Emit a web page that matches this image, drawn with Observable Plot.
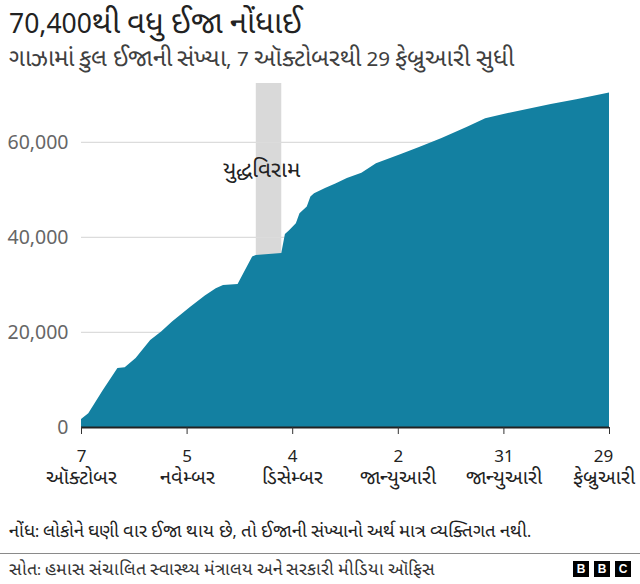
<!DOCTYPE html>
<html><head><meta charset="utf-8">
<script src="https://cdn.jsdelivr.net/npm/d3@7"></script>
<script src="https://cdn.jsdelivr.net/npm/@observablehq/plot@0.6"></script>
<style>
@font-face{font-family:"GujBig";src:local("Noto Sans Gujarati"),local("Noto Sans Gujarati Regular"),local("NotoSansGujarati-Regular"),local("Noto Sans Gujarati UI"),local("Lohit Gujarati"),local("Lohit-Gujarati"),local("FreeSans"),local("Shruti");size-adjust:118%;unicode-range:U+0A80-0AFF,U+200C-200D,U+25CC;}
body{margin:0;width:640px;height:584px;background:#fff;font-family:"GujBig","Noto Sans",sans-serif;position:relative;overflow:hidden}
.t{position:absolute;white-space:nowrap}
#title{left:9px;top:5px;font-size:26.5px;line-height:36px;color:#222}
#subtitle{left:9px;top:44px;font-size:20.6px;line-height:28px;color:#404040}
#chart{position:absolute;left:0;top:75px}
#note{left:9px;top:519px;font-size:15.6px;line-height:24px;color:#222}
#rule{position:absolute;left:0;top:553px;width:640px;height:1px;background:#8a8a8a}
#source{left:9px;top:558px;font-size:15px;line-height:22px;color:#333}
#bbc{position:absolute;left:573px;top:561px;display:flex;gap:5px}
#bbc span{display:block;width:16px;height:16px;background:#000;color:#fff;font:bold 12px/16px "Liberation Sans",sans-serif;text-align:center}
</style></head>
<body>
<div class="t" id="title"></div>
<div class="t" id="subtitle"></div>
<div id="chart"></div>
<div class="t" id="note"></div>
<div id="rule"></div>
<div class="t" id="source"></div>
<div id="bbc"><span>B</span><span>B</span><span>C</span></div>
<script>
const titleText = "70,400થી વધુ ઈજા નોંધાઈ";
const subtitleText = "ગાઝામાં કુલ ઈજાની સંખ્યા, 7 ઑક્ટોબરથી 29 ફેબ્રુઆરી સુધી";
const noteText = "નોંધ: લોકોને ઘણી વાર ઈજા થાય છે, તો ઈજાની સંખ્યાનો અર્થ માત્ર વ્યક્તિગત નથી.";
const sourceText = "સોત: હમાસ સંચાલિત સ્વાસ્થ્ય મંત્રાલય અને સરકારી મીડિયા ઑફિસ";

const dates = ["2023-10-07","2023-10-09","2023-10-13","2023-10-17","2023-10-19","2023-10-22","2023-10-26","2023-10-29","2023-11-01","2023-11-06","2023-11-10","2023-11-13","2023-11-15","2023-11-19","2023-11-23","2023-11-24","2023-12-01","2023-12-02","2023-12-03","2023-12-05","2023-12-06","2023-12-08","2023-12-09","2023-12-10","2023-12-13","2023-12-16","2023-12-19","2023-12-23","2023-12-27","2024-01-03","2024-01-08","2024-01-14","2024-01-21","2024-01-26","2024-01-31","2024-02-13","2024-02-20","2024-02-29"];
const injured = [1700,2900,7800,12400,12600,14500,18300,20100,22200,25300,27700,29200,29900,30100,35900,36200,36600,40600,41300,42900,45000,46400,48500,49200,50300,51300,52400,53500,55500,57500,59000,60800,63200,65000,65900,68000,69000,70400];

const tickDates = ["2023-10-07","2023-11-05","2023-12-04","2024-01-02","2024-01-31","2024-02-29"];
const tickDays = ["7","5","4","2","31","29"];
const tickMonths = ["ઑક્ટોબર","નવેમ્બર","ડિસેમ્બર","જાન્યુઆરી","જાન્યુઆરી","ફેબ્રુઆરી"];
const yTicks = [0,20000,40000,60000];
const yMax = 72400;

const ceasefireStart = "2023-11-24";
const ceasefireEnd = "2023-12-01";
const ceasefireLabel = "યુદ્ધવિરામ";
const ceasefireLabelDate = "2023-11-25T12:00";
const ceasefireLabelValue = 54000;

document.getElementById("title").textContent = titleText;
document.getElementById("subtitle").textContent = subtitleText;
document.getElementById("note").textContent = noteText;
document.getElementById("source").textContent = sourceText;

const data = dates.map((d,i)=>({date:new Date(d), value:injured[i]}));
const ticks = tickDates.map(d=>new Date(d));
const fmtTick = d => { const i = ticks.findIndex(t=>+t===+d); return tickDays[i] + "\n" + tickMonths[i]; };
const band = [{start:new Date(ceasefireStart), end:new Date(ceasefireEnd), label:ceasefireLabel, ld:new Date(ceasefireLabelDate), lv:ceasefireLabelValue}];
const xTextStyle = {tickSize:0,tickPadding:19,tickFormat:fmtTick,fontSize:17,lineHeight:1.3,fill:"#222",label:null};

const chart = Plot.plot({
  width:640, height:420,
  marginTop:8, marginBottom:68, marginLeft:81, marginRight:31,
  style:{fontFamily:'"GujBig","Noto Sans",sans-serif', background:"transparent"},
  x:{type:"utc", domain:[new Date(dates[0]), new Date(dates[dates.length-1])]},
  y:{domain:[0,yMax]},
  marks:[
    Plot.rect(band,{x1:"start",x2:"end",fill:"#d9d9d9"}),
    Plot.ruleY(yTicks.slice(1),{stroke:"#dcdcdc",strokeWidth:1.3}),
    Plot.areaY(data,{x:"date",y:"value",fill:"#1380a1"}),
    Plot.ruleY([0],{stroke:"#222",strokeWidth:2}),
    Plot.axisY({ticks:yTicks,tickSize:0,tickPadding:13,tickFormat:d3.format(","),fontSize:19.5,fill:"#666",label:null}),
    Plot.axisX({ticks:ticks,tickSize:7,tickFormat:()=>"",stroke:"#333",label:null}),
    Plot.axisX({ticks:ticks.slice(0,-1),...xTextStyle}),
    Plot.axisX({ticks:ticks.slice(-1),...xTextStyle,dx:-6}),
    Plot.text(band,{x:"ld",y:"lv",text:"label",fontSize:19,fill:"#222"})
  ]
});
document.getElementById("chart").appendChild(chart);
</script>
</body></html>
